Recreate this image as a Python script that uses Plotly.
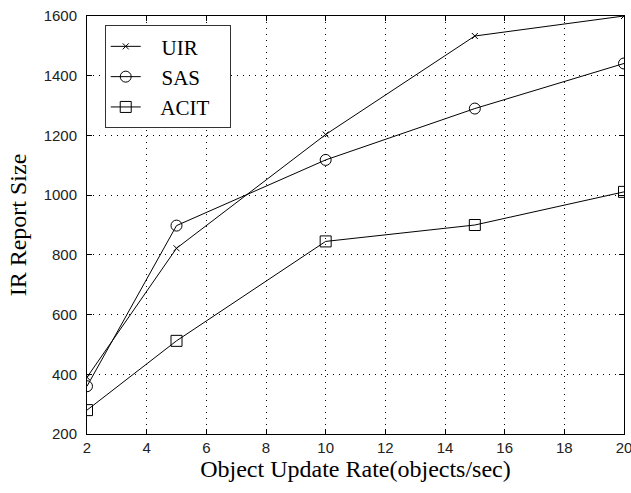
import plotly.graph_objects as go

x_vals = [2, 5, 10, 15, 20]
uir = [390, 822, 1203, 1533, 1600]
sas = [360, 898, 1118, 1290, 1441]
acit = [280, 512, 845, 900, 1011]
x_ticks = [2, 4, 6, 8, 10, 12, 14, 16, 18, 20]
y_ticks = [200, 400, 600, 800, 1000, 1200, 1400, 1600]

SERIF = "Liberation Serif"
TICKFONT = "Liberation Sans"

fig = go.Figure()
series = [("UIR", uir, "x-thin-open", 6), ("SAS", sas, "circle-open", 11), ("ACIT", acit, "square-open", 11)]
for name, vals, sym, sz in series:
    fig.add_trace(go.Scatter(
        x=x_vals, y=vals, name="   " + name + "   ", mode="lines+markers",
        line=dict(color="black", width=1),
        marker=dict(symbol=sym, size=sz, color="black", line=dict(color="black", width=1)),
    ))

axis_common = dict(
    showline=True, linecolor="black", linewidth=1, mirror="ticks",
    ticks="inside", ticklen=5, tickcolor="black",
    showgrid=True, gridcolor="black", griddash="1px,5px", gridwidth=1,
    zeroline=False, ticklabeloverflow="allow",
    tickfont=dict(family=TICKFONT, size=15, color="#222"),
)

fig.update_layout(
    width=631, height=493,
    margin=dict(l=87, r=7, t=16, b=59, autoexpand=False),
    plot_bgcolor="white", paper_bgcolor="white",
    font=dict(family=SERIF, color="black"),
    xaxis=dict(range=[2, 20], tickvals=x_ticks, ticklabelstandoff=0, **axis_common, automargin=False,
               title=dict(text="Object Update Rate(objects/sec)", standoff=0,
                          font=dict(family=SERIF, size=24, color="black"))),
    yaxis=dict(range=[200, 1600], tickvals=y_ticks, ticklabelstandoff=6, **axis_common, automargin=False,
               title=dict(text="IR Report Size", standoff=10,
                          font=dict(family=SERIF, size=24, color="black"))),
    legend=dict(x=0.033, y=0.978, xanchor="left", yanchor="top",
                bordercolor="#333", borderwidth=1, bgcolor="white",
                font=dict(family=SERIF, size=21, color="black"),
                tracegroupgap=0),
    showlegend=True,
)

fig.write_html("out.html")
